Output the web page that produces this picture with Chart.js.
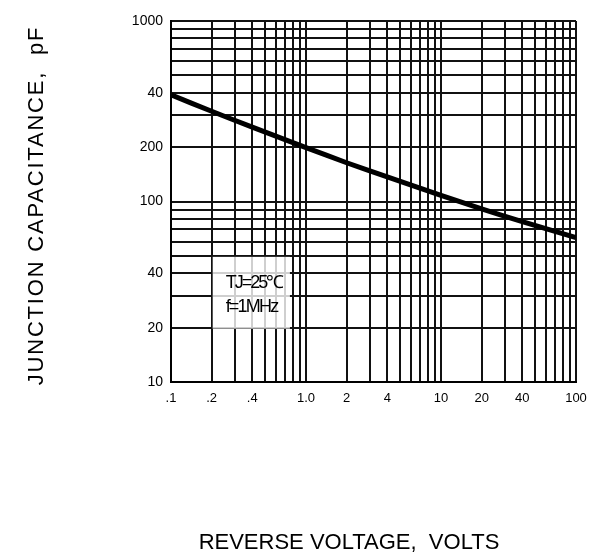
<!DOCTYPE html>
<html>
<head>
<meta charset="utf-8">
<script src="https://cdn.jsdelivr.net/npm/chart.js@4/dist/chart.umd.min.js"></script>
<style>
	html, body { margin:0; padding:0; background:#fff; }
</style>
</head>
<body>
<canvas id="capChart" width="602" height="553"></canvas>
<script>
// 곡선 데이터 (역전압 V, 접합용량 pF)
const voltage = [0.1, 0.2, 0.4, 1, 2, 4, 10, 20, 40, 100];
const capacitance = [390, 316, 258, 199, 164, 137, 108, 91, 77.4, 63];

// 격자선 위치
const xGridValues = [0.1,0.2,0.3,0.4,0.5,0.6,0.7,0.8,0.9, 1,2,3,4,5,6,7,8,9, 10,20,30,40,50,60,70,80,90, 100];
const yGridValues = [10,20,30,40,50,60,70,80,90, 100,200,300,400,500,600,700,800,900, 1000];

// 눈금 라벨 (원본 그대로, 400 자리는 "40")
const xLabelValues = [0.1, 0.2, 0.4, 1, 2, 4, 10, 20, 40, 100];
const xLabelTexts = ['.1', '.2', '.4', '1.0', '2', '4', '10', '20', '40', '100'];
const yLabelValues = [10, 20, 40, 100, 200, 400, 1000];
const yLabelTexts = ['10', '20', '40', '100', '200', '40', '1000'];

const xTitle = 'REVERSE VOLTAGE,  VOLTS';
const yTitle = 'JUNCTION CAPACITANCE,  pF';
const noteLines = ['TJ=25℃', 'f=1MHz'];
const noteBoxX = [0.2, 0.76];
const noteBoxY = [20, 50];

const fontFamily = "'Liberation Sans', Arial, sans-serif";

let labelFor = (values, texts, v) => {
	for (let i = 0; i < values.length; i++) {
		if (Math.abs(values[i] - v) < 1e-9 * Math.max(1, v)) return texts[i];
	}
	return '';
};

/**
 * 제목, 조건 박스 그리기
 */
const sheetPlugin = {
	id: 'sheet',
	beforeDatasetsDraw(chart) {
		const ctx = chart.ctx;
		const x = chart.scales.x, y = chart.scales.y;
		const left = x.getPixelForValue(noteBoxX[0]) + 1;
		const right = x.getPixelForValue(noteBoxX[1]);
		const top = y.getPixelForValue(noteBoxY[1]) + 1;
		const bottom = y.getPixelForValue(noteBoxY[0]) + 1;
		ctx.save();
		ctx.fillStyle = 'rgba(255,255,255,0.8)';
		ctx.fillRect(left, top, right - left, bottom - top);
		ctx.fillStyle = '#000';
		ctx.font = '18px ' + fontFamily;
		ctx.letterSpacing = '-2px';
		ctx.textAlign = 'left';
		ctx.textBaseline = 'alphabetic';
		ctx.fillText(noteLines[0], left + 13, top + 31);
		ctx.letterSpacing = '-1.8px';
		ctx.fillText(noteLines[1], left + 13, top + 55);
		ctx.restore();
	},
	afterDraw(chart) {
		const ctx = chart.ctx;
		const area = chart.chartArea;
		ctx.save();
		ctx.fillStyle = '#000';
		ctx.textAlign = 'center';
		ctx.textBaseline = 'alphabetic';
		ctx.font = '22px ' + fontFamily;
		ctx.fillText(xTitle, area.left + 178, area.bottom + 167);
		ctx.translate(43, (area.top + area.bottom) / 2 + 4);
		ctx.rotate(-Math.PI / 2);
		ctx.font = '22px ' + fontFamily;
		ctx.letterSpacing = '1.8px';
		ctx.fillText(yTitle, 0, 0);
		ctx.restore();
	}
};

let config = {
	type: 'line',
	data: {
		labels: voltage,
		datasets: [{
			label: 'Cj',
			data: voltage.map((v, i) => ({x: v, y: capacitance[i]})),
			borderColor: '#000',
			borderWidth: 5,
			pointRadius: 0,
			fill: false,
			tension: 0.2,
			borderCapStyle: 'butt'
		}]
	},
	options: {
		responsive: false,
		maintainAspectRatio: false,
		animation: { duration: 0 },
		events: [],
		layout: { padding: { top: 21, right: 26, bottom: 0, left: 0 } },
		plugins: {
			legend: { display: false },
			tooltip: { enabled: false }
		},
		scales: {
			x: {
				type: 'logarithmic',
				min: 0.1,
				max: 100,
				afterBuildTicks: (scale) => { scale.ticks = xGridValues.map(v => ({value: v})); },
				afterFit: (scale) => { scale.height = 171; },
				ticks: {
					autoSkip: false,
					maxRotation: 0,
					color: '#000',
					font: { family: fontFamily, size: 13 },
					padding: 9,
					callback: (v) => labelFor(xLabelValues, xLabelTexts, v)
				},
				grid: { color: '#111', lineWidth: 2, drawTicks: false },
				border: { display: true, color: '#000', width: 2 }
			},
			y: {
				type: 'logarithmic',
				min: 10,
				max: 1000,
				afterBuildTicks: (scale) => { scale.ticks = yGridValues.map(v => ({value: v})); },
				afterFit: (scale) => { scale.width = 171; },
				ticks: {
					autoSkip: false,
					color: '#000',
					font: { family: fontFamily, size: 14 },
					padding: 8,
					callback: (v) => labelFor(yLabelValues, yLabelTexts, v)
				},
				grid: { color: '#111', lineWidth: 2, drawTicks: false },
				border: { display: true, color: '#000', width: 2 }
			}
		}
	},
	plugins: [sheetPlugin]
};

const capChart = new Chart(document.getElementById('capChart'), config);
</script>
</body>
</html>
